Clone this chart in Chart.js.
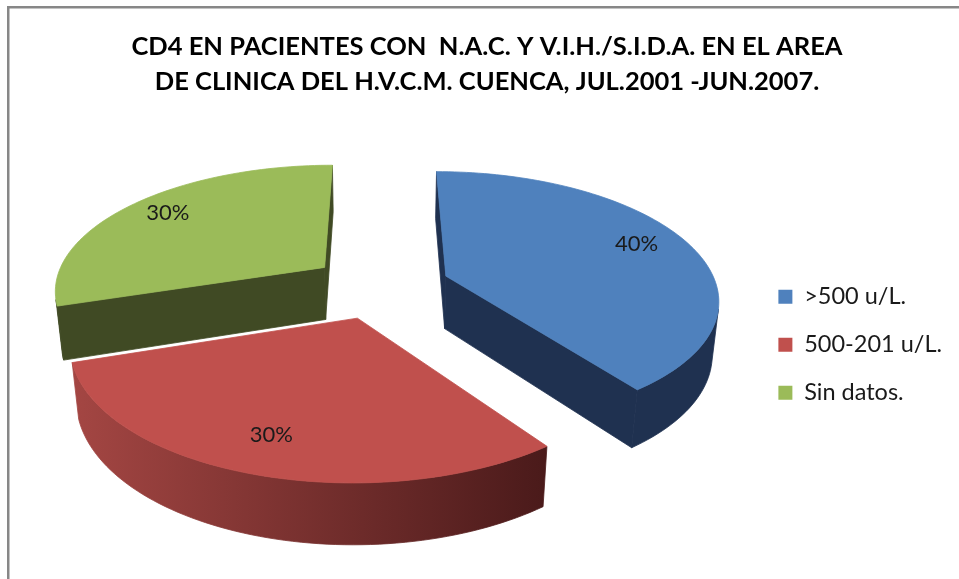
<!DOCTYPE html>
<html>
<head>
<meta charset="utf-8">
<script src="https://cdn.jsdelivr.net/npm/chart.js@4.4.0/dist/chart.umd.min.js"></script>
<style>
  html, body { margin: 0; padding: 0; background: #fff; }
  #wrap { position: relative; width: 959px; height: 579px; }
</style>
</head>
<body>
<div id="wrap"><canvas id="myChart" width="959" height="579"></canvas></div>
<script>
// Datos del gráfico
const categorias = ['>500 u/L.', '500-201 u/L.', 'Sin datos.'];
const porcentajes = [40, 30, 30];
const coloresCara = ['#4F81BD', '#C0504D', '#9BBB59'];
const coloresLado = ['#1F3150', ['#A44643', '#4A1A1A'], '#404A24'];
const tituloLineas = [
  'CD4 EN PACIENTES CON  N.A.C. Y V.I.H./S.I.D.A. EN EL AREA',
  'DE CLINICA DEL H.V.C.M. CUENCA, JUL.2001 -JUN.2007.'
];

// Cámara para la vista en perspectiva del pastel (unidades = radio)
const vista = { cx: 380, cy: 286, F: 1435, D: 5.3, T: 27.5 * Math.PI / 180, H: 0.225 };
const camara = [0, vista.D * Math.sin(vista.T), -vista.D * Math.cos(vista.T)];

function proyectar(X, Y, Z) {
  const yc = Z * Math.sin(vista.T) + Y * Math.cos(vista.T);
  const zc = vista.D + Z * Math.cos(vista.T) - Y * Math.sin(vista.T);
  return [vista.cx + vista.F * X / zc, vista.cy - vista.F * yc / zc];
}

function visible(n, P) {
  return n[0] * (camara[0] - P[0]) + n[1] * (camara[1] - P[1]) + n[2] * (camara[2] - P[2]) > 0;
}

function poligono(ctx, pts, color) {
  ctx.beginPath();
  pts.forEach((p, k) => k ? ctx.lineTo(p[0], p[1]) : ctx.moveTo(p[0], p[1]));
  ctx.closePath();
  ctx.fillStyle = color;
  ctx.strokeStyle = color;
  ctx.lineWidth = 0.8;
  ctx.lineJoin = 'round';
  ctx.fill();
  ctx.stroke();
}

// Marco gris del área del gráfico
const marco = {
  id: 'marco',
  beforeDraw(chart) {
    const ctx = chart.ctx;
    ctx.save();
    ctx.fillStyle = '#fff';
    ctx.fillRect(0, 0, chart.width, chart.height);
    ctx.fillStyle = '#878787';
    ctx.fillRect(7, 6, chart.width - 7, 2.5);
    ctx.fillRect(7, 6, 2.5, chart.height - 6);
    ctx.restore();
  }
};

// Dibuja cada porción como un sólido en 3D a partir de los arcos de Chart.js
const pastel3D = {
  id: 'pastel3D',
  beforeDatasetsDraw(chart) {
    const ctx = chart.ctx;
    const meta = chart.getDatasetMeta(0);
    const valores = chart.data.datasets[0].data;
    const total = valores.reduce((a, b) => a + b, 0);
    const H = vista.H;

    const porciones = meta.data.map((arc, i) => {
      const p = arc.getProps(['startAngle', 'endAngle', 'outerRadius']);
      const off = arc.options.offset / p.outerRadius;
      const mid = (p.startAngle + p.endAngle) / 2;
      return { i, a0: p.startAngle, a1: p.endAngle, mid,
               ox: off * Math.cos(mid), oz: -off * Math.sin(mid) };
    });
    // de atrás hacia adelante
    porciones.sort((a, b) => (-Math.sin(b.mid)) - (-Math.sin(a.mid)));

    ctx.save();
    porciones.forEach(s => {
      const borde = (a, Y) => proyectar(s.ox + Math.cos(a), Y, s.oz - Math.sin(a));
      const centro = Y => proyectar(s.ox, Y, s.oz);
      const N = Math.max(12, Math.ceil((s.a1 - s.a0) / (Math.PI / 120)));
      const angs = [];
      for (let k = 0; k <= N; k++) angs.push(s.a0 + (s.a1 - s.a0) * k / N);

      let lado = coloresLado[s.i];
      if (Array.isArray(lado)) {
        const xs = angs.map(a => borde(a, 0)[0]);
        const g = ctx.createLinearGradient(Math.min(...xs), 0, Math.max(...xs), 0);
        g.addColorStop(0, lado[0]);
        g.addColorStop(1, lado[1]);
        lado = g;
      }
      const P0 = [s.ox, 0, s.oz];

      // caras radiales
      const n0 = [Math.sin(s.a0), 0, Math.cos(s.a0)];
      if (visible(n0, P0)) {
        poligono(ctx, [centro(0), borde(s.a0, 0), borde(s.a0, -H), centro(-H)], lado);
      }
      const n1 = [-Math.sin(s.a1), 0, -Math.cos(s.a1)];
      if (visible(n1, P0)) {
        poligono(ctx, [centro(0), borde(s.a1, 0), borde(s.a1, -H), centro(-H)], lado);
      }

      // pared exterior: tramos continuos visibles
      let tramo = [];
      const cerrar = () => {
        if (tramo.length > 1) {
          const arriba = tramo.map(a => borde(a, 0));
          const abajo = tramo.slice().reverse().map(a => borde(a, -H));
          poligono(ctx, arriba.concat(abajo), lado);
        }
        tramo = [];
      };
      for (let k = 0; k < N; k++) {
        const am = (angs[k] + angs[k + 1]) / 2;
        const n = [Math.cos(am), 0, -Math.sin(am)];
        const P = [s.ox + Math.cos(am), 0, s.oz - Math.sin(am)];
        if (visible(n, P)) {
          if (!tramo.length) tramo.push(angs[k]);
          tramo.push(angs[k + 1]);
        } else {
          cerrar();
        }
      }
      cerrar();

      // cara superior
      poligono(ctx, [centro(0)].concat(angs.map(a => borde(a, 0))), coloresCara[s.i]);
    });

    // etiquetas de porcentaje
    ctx.font = '22px Lato';
    ctx.fillStyle = '#1a1a1a';
    ctx.textAlign = 'center';
    ctx.textBaseline = 'middle';
    porciones.forEach(s => {
      const q = proyectar(s.ox + 0.8 * Math.cos(s.mid), 0, s.oz - 0.8 * Math.sin(s.mid));
      ctx.fillText(Math.round(valores[s.i] / total * 100) + '%', q[0] - 2, q[1] - 3);
    });
    ctx.restore();
    return false;
  }
};

const ctx = document.getElementById('myChart').getContext('2d');
const myChart = new Chart(ctx, {
  type: 'pie',
  data: {
    labels: categorias,
    datasets: [{
      data: porcentajes,
      backgroundColor: coloresCara,
      borderWidth: 0,
      offset: 70,
    }]
  },
  options: {
    responsive: false,
    animation: false,
    events: [],
    radius: 270,
    layout: { padding: { left: 22, right: 7, top: 29, bottom: 150 } },
    plugins: {
      title: {
        display: true,
        text: tituloLineas,
        color: '#000',
        font: { family: 'Lato', size: 25.5, weight: 'bold', lineHeight: 35 / 25.5 },
        padding: { top: 0, bottom: 0 },
      },
      legend: {
        position: 'right',
        align: 'end',
        labels: {
          color: '#1a1a1a',
          font: { family: 'Lato', size: 23.5 },
          boxWidth: 14,
          boxHeight: 14,
          padding: 24.5,
        }
      },
      tooltip: { enabled: false }
    }
  },
  plugins: [marco, pastel3D]
});
</script>
</body>
</html>
